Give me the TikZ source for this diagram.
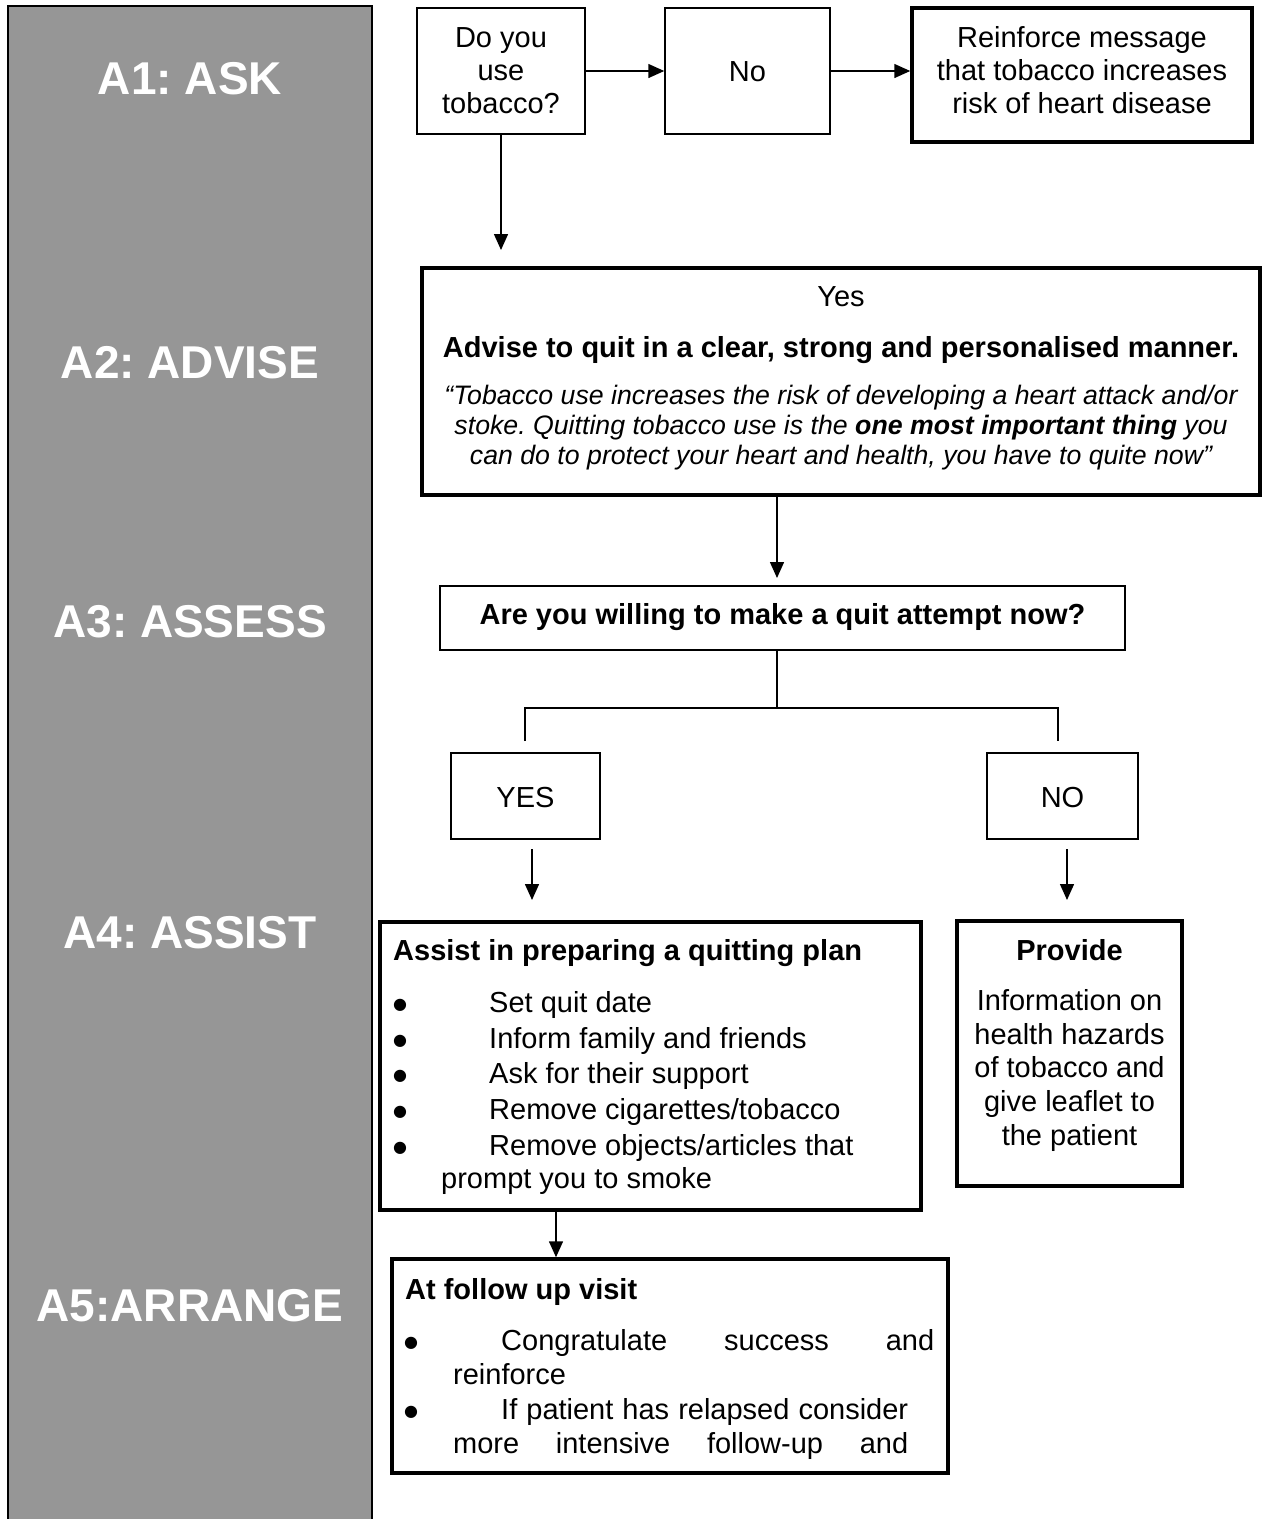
\documentclass[tikz,border=0pt]{standalone}
\usepackage{fontspec}
\setmainfont{Liberation Sans}
\newfontfamily\bulfamily{DejaVu Sans}
\usetikzlibrary{arrows.meta}
\definecolor{panelgray}{RGB}{150,150,150}
\newcommand\fbody{\fontsize{29}{33}\selectfont}
\newcommand\fital{\fontsize{26.7}{30}\selectfont\itshape}
\newcommand\flab{\fontsize{46}{52}\selectfont\bfseries}
\newcommand\fbul{\bulfamily\fontsize{16}{16}\selectfont}
\frenchspacing
\begin{document}
\frenchspacing
\begin{tikzpicture}[x=1pt,y=-1pt,
  thinbox/.style={draw, line width=1.5pt, inner sep=0pt, shape=rectangle},
  thickbox/.style={draw, line width=3.5pt, inner sep=0pt, shape=rectangle},
  ln/.style={line width=1.5pt},
  arr/.style={line width=1.5pt, -{Triangle[length=16pt,width=14pt]}},
  txt/.style={inner sep=0pt, anchor=base, font=\fbody},
  btxt/.style={inner sep=0pt, anchor=base, font=\fbody\bfseries},
  ltxt/.style={inner sep=0pt, anchor=base west, font=\fbody},
  lbtxt/.style={inner sep=0pt, anchor=base west, font=\fbody\bfseries},
  itxt/.style={inner sep=0pt, anchor=base, font=\fital},
  bul/.style={inner sep=0pt, anchor=base, font=\fbul},
  lab/.style={inner sep=0pt, anchor=base, font=\flab, text=white},
]
\useasboundingbox (0,0) rectangle (1262,1519);
\fill[white] (0,0) rectangle (1262,1519);

% left gray panel
\draw[fill=panelgray, line width=2pt] (8,6) rectangle (372,1540);
\node[lab] (l1) at (190,94) {A1: ASK};
\node[lab] (l2) at (190,378) {A2: ADVISE};
\node[lab] (l3) at (190,637) {A3: ASSESS};
\node[lab] (l4) at (190,948) {A4: ASSIST};
\node[lab] (l5) at (190,1321) {A5:ARRANGE};

% A1 row
\node[thinbox, minimum width=168pt, minimum height=126pt] (q) at (501,71) {};
\node[txt] (q1) at (501,47) {Do you};
\node[txt] (q2) at (501,80) {use};
\node[txt] (q3) at (501,113) {tobacco?};

\node[thinbox, minimum width=165pt, minimum height=126pt] (no) at (747.5,71) {};
\node[txt] (no1) at (747.5,81) {No};

\node[thickbox, minimum width=340pt, minimum height=134pt] (rf) at (1082,75) {};
\node[txt] (rf1) at (1082,47) {Reinforce message};
\node[txt] (rf2) at (1082,80) {that tobacco increases};
\node[txt] (rf3) at (1082,113) {risk of heart disease};

\draw[arr] (q.east) -- (no.west);
\draw[arr] (no.east) -- (no.east -| rf.west);
\coordinate (c1) at (501,250);
\draw[arr] (q.south) -- (c1);

% A2
\node[thickbox, minimum width=838pt, minimum height=227pt] (adv) at (841,381.5) {};
\node[txt] (adv1) at (841,306) {Yes};
\node[btxt] (adv2) at (841,357) {Advise to quit in a clear, strong and personalised manner.};
\node[itxt] (adv3) at (841,404) {“Tobacco use increases the risk of developing a heart attack and/or};
\node[itxt] (adv4) at (841,434) {stoke. Quitting tobacco use is the \textbf{one most important thing} you};
\node[itxt] (adv5) at (841,464) {can do to protect your heart and health, you have to quite now”};

\coordinate (c2) at (777,578);
\draw[arr] (c2 |- adv.south) -- (c2);

% A3
\node[thinbox, minimum width=685pt, minimum height=64pt] (a3) at (782.5,618) {};
\node[btxt] (a31) at (782.5,624) {Are you willing to make a quit attempt now?};

\coordinate (j) at (777,708);
\coordinate (jl) at (525,741);
\coordinate (jr) at (1058,741);
\draw[ln] (j |- a3.south) -- (j);
\draw[ln] (jl) -- (jl |- j) -- (jr |- j) -- (jr);

\node[thinbox, minimum width=149pt, minimum height=86pt] (yes) at (525.5,796) {};
\node[txt] (yes1) at (525.5,807) {YES};
\node[thinbox, minimum width=151pt, minimum height=86pt] (nob) at (1062.5,796) {};
\node[txt] (nob1) at (1062.5,807) {NO};

\coordinate (ys) at (532,849);
\coordinate (ye) at (532,900);
\coordinate (ns) at (1067,849);
\coordinate (ne) at (1067,900);
\draw[arr] (ys) -- (ye);
\draw[arr] (ns) -- (ne);

% A4 assist
\node[thickbox, minimum width=541pt, minimum height=288pt] (as) at (650.5,1066) {};
\node[lbtxt] (as0) at (393,960) {Assist in preparing a quitting plan};
\node[bul] (b1) at (400,1009) {●};
\node[ltxt] (as1) at (489,1012) {Set quit date};
\node[bul] (b2) at (400,1045) {●};
\node[ltxt] (as2) at (489,1048) {Inform family and friends};
\node[bul] (b3) at (400,1080) {●};
\node[ltxt] (as3) at (489,1083) {Ask for their support};
\node[bul] (b4) at (400,1116) {●};
\node[ltxt] (as4) at (489,1119) {Remove cigarettes/tobacco};
\node[bul] (b5) at (400,1152) {●};
\node[ltxt] (as5) at (489,1155) {Remove objects/articles that};
\node[ltxt] (as6) at (441,1188) {prompt you to smoke};

% A4 provide
\node[thickbox, minimum width=225pt, minimum height=265pt] (pv) at (1069.5,1053.5) {};
\node[btxt] (pv0) at (1069.5,960) {Provide};
\node[txt] (pv1) at (1069.5,1010) {Information on};
\node[txt] (pv2) at (1069.5,1044) {health hazards};
\node[txt] (pv3) at (1069.5,1077) {of tobacco and};
\node[txt] (pv4) at (1069.5,1111) {give leaflet to};
\node[txt] (pv5) at (1069.5,1145) {the patient};

% A5 follow-up
\node[thickbox, minimum width=556pt, minimum height=214pt] (fo) at (670,1366) {};
\node[lbtxt] (fo0) at (405,1299) {At follow up visit};
\node[bul] (fb1) at (411,1347) {●};
\node[ltxt] (fo1) at (501,1350) {\makebox[433pt][s]{Congratulate\hfill success\hfill and}};
\node[ltxt] (fo2) at (453,1384) {reinforce};
\node[bul] (fb2) at (411,1416) {●};
\node[ltxt] (fo3) at (501,1419) {\makebox[407pt][s]{If\hfill patient\hfill has\hfill relapsed\hfill consider}};
\node[ltxt] (fo4) at (453,1453) {\makebox[455pt][s]{more\hfill intensive\hfill follow-up\hfill and}};

\coordinate (fx) at (556,0);
\draw[arr] (as.south -| fx) -- (fo.north -| fx);
\end{tikzpicture}
\end{document}
